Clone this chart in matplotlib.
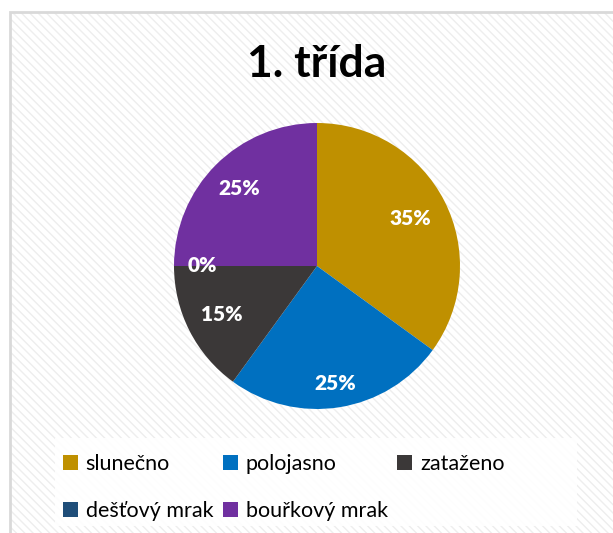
import numpy as np
import matplotlib
matplotlib.use('Agg')
import matplotlib.pyplot as plt
from matplotlib.patches import Rectangle, Patch

plt.rcParams['font.family'] = ['Lato', 'DejaVu Sans']

title = '1. třída'
categories = ['slunečno', 'polojasno', 'zataženo', 'dešťový mrak', 'bouřkový mrak']
values = [35, 25, 15, 0, 25]
colors = ['#BF9000', '#0070C0', '#3B3838', '#1F4E79', '#7030A0']

W, H = 613, 533
fig = plt.figure(figsize=(W / 100, H / 100), dpi=100)

# textured chart background and its border
bg = Rectangle((10 / W, 0), 1, 1 - 12 / H, transform=fig.transFigure, zorder=-3,
               facecolor='white', edgecolor='#eeeeee', hatch='\\\\\\\\', linewidth=0)
fig.patches.append(bg)
border = Rectangle((10 / W, -0.1), 1.2, 1.1 - 12 / H, transform=fig.transFigure, zorder=-2,
                   fill=False, edgecolor='#d9d9d9', linewidth=2)
fig.patches.append(border)

# white legend box
lbox = Rectangle((55 / W, 1 - 526 / H), (577 - 55) / W, (526 - 438) / H, zorder=-1,
                 transform=fig.transFigure, facecolor='white', edgecolor='none', alpha=0.9)
fig.patches.append(lbox)

fig.text(317 / W, 1 - 64 / H, title, ha='center', va='center',
         fontsize=32, fontweight='bold', color='black')

cx, cy, r = 317, 266, 143
ax = fig.add_axes([(cx - r) / W, (H - cy - r) / H, 2 * r / W, 2 * r / H])
wedges, _ = ax.pie(values, colors=colors, startangle=90, counterclock=False,
                   radius=1.0)
ax.set_xlim(-1, 1)
ax.set_ylim(-1, 1)
ax.set_aspect('equal')
ax.axis('off')

# percentage labels
dists = [0.73, 0.83, 0.75, 0.80, 0.77]
total = sum(values)
for w, v, d in zip(wedges, values, dists):
    ang = np.deg2rad((w.theta1 + w.theta2) / 2)
    ax.text(d * np.cos(ang), d * np.sin(ang), f'{round(v / total * 100)}%',
            ha='center', va='center', color='white', fontsize=15, fontweight='heavy')

# legend fills column by column, so reorder to read row by row
handles = [Patch(facecolor=c, edgecolor='none') for c in colors]
order = [0, 3, 1, 4, 2]
fig.legend([handles[i] for i in order], [categories[i] for i in order],
           loc='upper left', bbox_to_anchor=(63 / W, 1 - 454 / H),
           ncol=3, frameon=False, fontsize=15.5, handlelength=0.7, handleheight=0.7,
           handletextpad=0.35, columnspacing=0.45, labelspacing=1.25, borderaxespad=0,
           borderpad=0)

fig.savefig('out.png', dpi=100)
